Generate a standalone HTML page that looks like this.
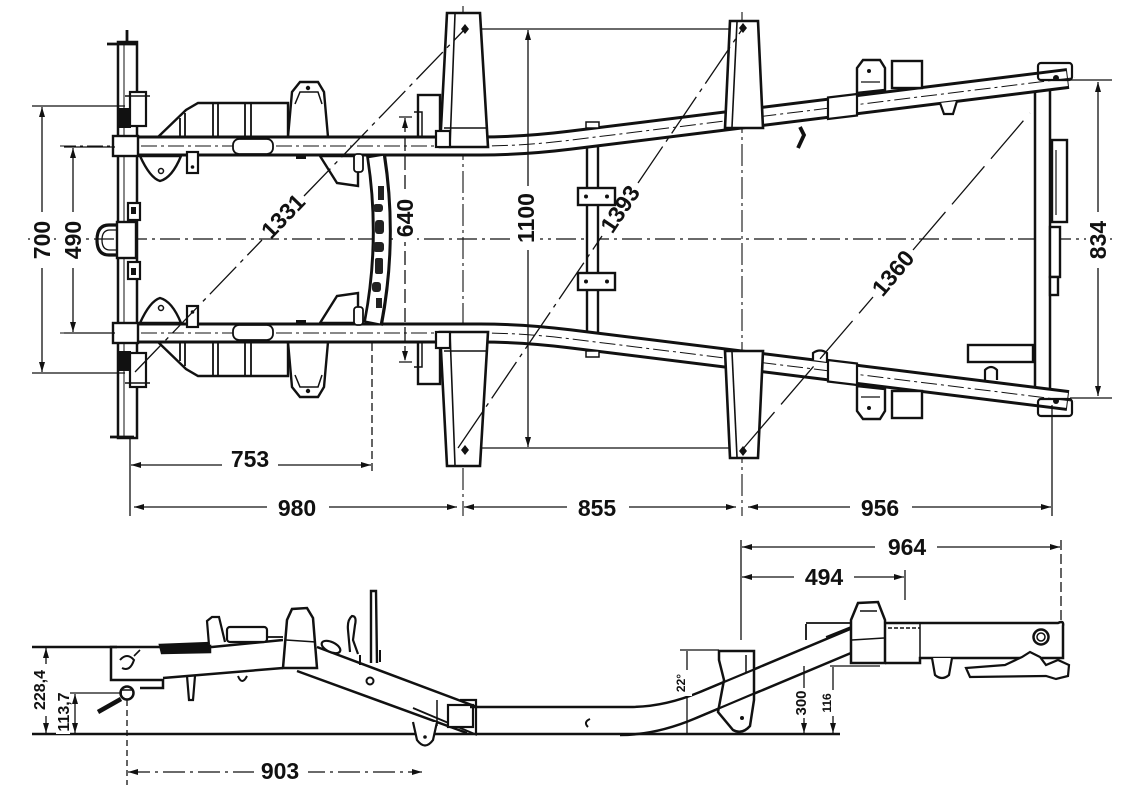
<!DOCTYPE html>
<html><head><meta charset="utf-8">
<style>
html,body{margin:0;padding:0;background:#fff;}
svg{display:block;}
text{font-family:"Liberation Sans",Arial,sans-serif;font-weight:bold;fill:#111;}
</style></head>
<body>
<svg width="1123" height="794" viewBox="0 0 1123 794" xmlns="http://www.w3.org/2000/svg">
<defs>
<marker id="ar" viewBox="0 0 10 6" refX="10" refY="3" markerWidth="10" markerHeight="6" markerUnits="userSpaceOnUse" orient="auto-start-reverse">
<path d="M0,0 L10,3 L0,6 Z" fill="#111"/>
</marker>
<g id="half">
 <!-- fuel tank -->
 <path d="M158,137 L186,110 L198,103 L288,103 L288,137 Z" fill="#fff" stroke="#111" stroke-width="2.4"/>
 <path d="M213,103V137 M218,103V137 M245,103V137 M251,103V137 M180,118V137 M185,113V137" fill="none" stroke="#111" stroke-width="1.8"/>
 <!-- spring bracket front -->
 <path d="M288,137 L292,92 L300,82 L318,82 L324,92 L328,137 Z" fill="#fff" stroke="#111" stroke-width="2.4"/>
 <path d="M295,104 L300,92 L318,92 L322,104" fill="none" stroke="#111" stroke-width="1.5"/>
 <circle cx="308" cy="88" r="2.2" fill="#111"/>
 <!-- box near hanger 1 -->
 <rect x="418" y="95" width="22" height="42" fill="#fff" stroke="#111" stroke-width="2.4"/>
 <path d="M414,112 H422 V137" fill="none" stroke="#111" stroke-width="1.5"/>
 <!-- rail tube -->
 <path d="M113,146 L480,146 Q523,146 570,140.2 L1068,78.5" fill="none" stroke="#111" stroke-width="21"/>
 <path d="M114,146 L480,146 Q523,146 570,140.2 L1067,78.6" fill="none" stroke="#fff" stroke-width="15"/>
 <path d="M60,146 L480,146 Q523,146 570,140.2 L1075,77.6" fill="none" stroke="#111" stroke-width="1" stroke-dasharray="16 4 3 4"/>
 <!-- junction box front -->
 <rect x="113" y="136" width="25" height="20" fill="#fff" stroke="#111" stroke-width="2.4"/>
 <!-- sleeve on rail -->
 <rect x="233" y="139" width="40" height="15" rx="6" fill="#fff" stroke="#111" stroke-width="1.8"/>
 <!-- under-rail items -->
 <path d="M140,156 Q150,178 160,181 Q172,178 181,156 Z" fill="#fff" stroke="#111" stroke-width="2.4"/>
 <circle cx="161" cy="171" r="2.5" fill="none" stroke="#111" stroke-width="1.5"/>
 <rect x="187" y="152" width="11" height="21" fill="#fff" stroke="#111" stroke-width="2.2"/>
 <circle cx="192.5" cy="167" r="1.8" fill="#111"/>
 <path d="M320,156 L337,183 L358,186 L358,156 Z" fill="#fff" stroke="#111" stroke-width="2.4"/>
 <rect x="354" y="154" width="9" height="18" rx="3" fill="#fff" stroke="#111" stroke-width="1.8"/>
 <rect x="296" y="154" width="10" height="5" fill="#111"/>
 <!-- front crossmember block -->
 <rect x="130" y="92" width="16" height="34" fill="#fff" stroke="#111" stroke-width="2.2"/>
 <rect x="118" y="108" width="13" height="20" fill="#111"/>
 <path d="M125,96 H150" stroke="#111" stroke-width="1.5"/>
 <!-- hanger 1 -->
 <path d="M447,13 L480,13 L488,147 L440,147 Z" fill="#fff" stroke="#111" stroke-width="2.6"/>
 <path d="M455,14 L450,146 M444,128 H486" fill="none" stroke="#111" stroke-width="1.6"/>
 <rect x="436" y="131" width="14" height="16" fill="#fff" stroke="#111" stroke-width="2.2"/>
 <path d="M465,24 L469,29 L465,34 L461,29 Z" fill="#111"/>
 <!-- small tab on rail -->
 <rect x="586" y="122" width="13" height="6" fill="#fff" stroke="#111" stroke-width="1.5"/>
 <!-- hanger 2 -->
 <path d="M730,21 L758,21 L763,128 L725,128 Z" fill="#fff" stroke="#111" stroke-width="2.6"/>
 <path d="M737,22 L732,127" fill="none" stroke="#111" stroke-width="1.6"/>
 <path d="M743,23 L747,28 L743,33 L739,28 Z" fill="#111"/>
 <!-- splice sleeve -->
 <path d="M828,97.5 L857,94 L857,115.5 L828,119 Z" fill="#fff" stroke="#111" stroke-width="2.2"/>
 <!-- bracket on rail + box -->
 <path d="M857,93 L857,68 L863,60 L880,60 L885,68 L885,90 Z" fill="#fff" stroke="#111" stroke-width="2.4"/>
 <circle cx="869" cy="71" r="2" fill="#111"/>
 <path d="M861,82 H880" stroke="#111" stroke-width="1.3"/>
 <rect x="892" y="61" width="30" height="27" fill="#fff" stroke="#111" stroke-width="2.4"/>
 <!-- rail end bracket -->
 <rect x="1038" y="63" width="34" height="17" rx="3" fill="none" stroke="#111" stroke-width="2.2"/>
 <circle cx="1056" cy="78" r="3" fill="#111"/>
</g>
</defs>

<!-- ===== TOP VIEW ===== -->
<line x1="28" y1="239" x2="1112" y2="239" stroke="#111" stroke-width="1.2" stroke-dasharray="20 5 3 5"/>
<line x1="463" y1="6" x2="463" y2="516" stroke="#111" stroke-width="1.1" stroke-dasharray="22 4 3 4"/>
<line x1="742" y1="12" x2="742" y2="516" stroke="#111" stroke-width="1.1" stroke-dasharray="22 4 3 4"/>
<line x1="480" y1="29" x2="745" y2="29" stroke="#111" stroke-width="1.3"/>
<line x1="477" y1="448" x2="740" y2="448" stroke="#111" stroke-width="1.3"/>

<!-- front tube -->
<rect x="118" y="42" width="19" height="396" fill="#fff" stroke="#111" stroke-width="2.5"/>
<line x1="124" y1="44" x2="124" y2="436" stroke="#111" stroke-width="1"/>
<path d="M107,44 H137 M110,437 H134 M127,30 V42" stroke="#111" stroke-width="2.8" fill="none"/>
<!-- tow loop -->
<path d="M118,225 L109,225 Q97,225 97,240 Q97,255 109,255 L118,255" fill="none" stroke="#111" stroke-width="3.2"/>
<path d="M118,230 L110,230 Q102,230 102,240 Q102,250 110,250 L118,250" fill="none" stroke="#111" stroke-width="1.3"/>
<rect x="117" y="222" width="19" height="36" fill="#fff" stroke="#111" stroke-width="2.4"/>
<rect x="128" y="203" width="12" height="17" fill="#fff" stroke="#111" stroke-width="2.2"/>
<rect x="131" y="207" width="5" height="7" fill="#111"/>
<rect x="128" y="262" width="12" height="17" fill="#fff" stroke="#111" stroke-width="2.2"/>
<rect x="131" y="268" width="5" height="7" fill="#111"/>

<!-- crossmember 2 -->
<rect x="587" y="132" width="11" height="215" fill="#fff" stroke="#111" stroke-width="2.4"/>
<!-- rear crossmember -->
<rect x="1035" y="80" width="15" height="320" fill="#fff" stroke="#111" stroke-width="2.5"/>

<!-- halves -->
<use href="#half"/>
<g transform="matrix(1 0 0 -1 0 479)"><use href="#half"/></g>

<!-- upper-only details -->
<path d="M800,127 L804,135 L798,148" fill="none" stroke="#111" stroke-width="3.8"/>
<path d="M940,103 L944,114 L953,114 L957,101" fill="#fff" stroke="#111" stroke-width="2.2"/>
<!-- lower-only details -->
<path d="M813,360 V353 Q820,348 827,353 V362" fill="#fff" stroke="#111" stroke-width="2.2"/>

<!-- crossmember 1 -->
<path d="M376,155 Q389,240 373,324" fill="none" stroke="#111" stroke-width="20"/>
<path d="M376,157 Q389,240 373,322" fill="none" stroke="#fff" stroke-width="14"/>
<g fill="#222">
<rect x="378" y="186" width="6" height="14"/>
<rect x="373" y="204" width="10" height="8" rx="3"/>
<rect x="375" y="220" width="9" height="14" rx="3"/>
<rect x="373" y="242" width="11" height="10" rx="3"/>
<rect x="375" y="258" width="8" height="16" rx="2"/>
<rect x="372" y="282" width="9" height="10" rx="3"/>
<rect x="376" y="298" width="6" height="10"/>
</g>
<!-- crossmember 2 clamps -->
<rect x="578" y="188" width="37" height="17" fill="#fff" stroke="#111" stroke-width="2.4"/>
<circle cx="586" cy="196.5" r="2" fill="#111"/><circle cx="607" cy="196.5" r="2" fill="#111"/>
<rect x="578" y="273" width="37" height="17" fill="#fff" stroke="#111" stroke-width="2.4"/>
<circle cx="586" cy="281.5" r="2" fill="#111"/><circle cx="607" cy="281.5" r="2" fill="#111"/>

<!-- rear crossmember plates -->
<rect x="1052" y="140" width="15" height="82" fill="#fff" stroke="#111" stroke-width="2.4"/>
<path d="M1056,150 V215" stroke="#111" stroke-width="1.2"/>
<rect x="1050" y="227" width="10" height="50" fill="#fff" stroke="#111" stroke-width="2.4"/>
<rect x="1050" y="277" width="8" height="18" fill="#fff" stroke="#111" stroke-width="2.4"/>
<rect x="968" y="345" width="65" height="17" fill="#fff" stroke="#111" stroke-width="2.4"/>
<path d="M985,380 V370 Q991,364 997,370 V380" fill="none" stroke="#111" stroke-width="2.2"/>

<!-- diagonals -->
<g stroke="#111" stroke-width="1.3" fill="none">
<path d="M135,372 L262,240 M304,196 L465,29" stroke-dasharray="38 6 4 6"/>
<path d="M458,448 L602,236 M638,183 L743,28" stroke-dasharray="44 6 4 6"/>
<path d="M742,450 L873,297 M913,250 L1030,113" stroke-dasharray="50 10"/>
</g>
<text transform="translate(283,216) rotate(-46)" text-anchor="middle" dy="8" font-size="23">1331</text>
<text transform="translate(620,209) rotate(-56)" text-anchor="middle" dy="8" font-size="23">1393</text>
<text transform="translate(893,273) rotate(-50)" text-anchor="middle" dy="8" font-size="23">1360</text>

<!-- dimension lines top view -->
<g stroke="#111" stroke-width="1.3" fill="none">
<path d="M32,106 H125 M32,373 H125 M64,147 H115 M64,333 H115"/>
<line x1="42" y1="107" x2="42" y2="372" marker-start="url(#ar)" marker-end="url(#ar)"/>
<line x1="73" y1="148" x2="73" y2="332" marker-start="url(#ar)" marker-end="url(#ar)"/>
<line x1="405" y1="118" x2="405" y2="361" stroke-dasharray="14 5" marker-start="url(#ar)" marker-end="url(#ar)"/>
<path d="M399,117 H412 M399,362 H412"/>
<line x1="528" y1="30" x2="528" y2="447" marker-start="url(#ar)" marker-end="url(#ar)"/>
<path d="M1070,80 H1112 M1070,398 H1112"/>
<line x1="1098" y1="82" x2="1098" y2="396" marker-start="url(#ar)" marker-end="url(#ar)"/>
<path d="M130,438 V516 M1052,405 V516"/>
<path d="M372,343 V472" stroke-dasharray="8 4"/>
<line x1="131" y1="465" x2="371" y2="465" marker-start="url(#ar)" marker-end="url(#ar)"/>
<line x1="134" y1="507" x2="457" y2="507" marker-start="url(#ar)" marker-end="url(#ar)"/>
<line x1="464" y1="507" x2="736" y2="507" marker-start="url(#ar)" marker-end="url(#ar)"/>
<line x1="748" y1="507" x2="1051" y2="507" marker-start="url(#ar)" marker-end="url(#ar)"/>
</g>
<g fill="#fff">
<rect x="30" y="212" width="24" height="56"/>
<rect x="61" y="212" width="24" height="56"/>
<rect x="393" y="194" width="24" height="48"/>
<rect x="514" y="186" width="26" height="64"/>
<rect x="1086" y="212" width="24" height="56"/>
<rect x="222" y="452" width="56" height="24"/>
<rect x="267" y="496" width="62" height="24"/>
<rect x="567" y="496" width="62" height="24"/>
<rect x="850" y="496" width="62" height="24"/>
</g>
<text transform="translate(42,240) rotate(-90)" text-anchor="middle" dy="8" font-size="23">700</text>
<text transform="translate(73,240) rotate(-90)" text-anchor="middle" dy="8" font-size="23">490</text>
<text transform="translate(405,218) rotate(-90)" text-anchor="middle" dy="8" font-size="23">640</text>
<text transform="translate(526,218) rotate(-90)" text-anchor="middle" dy="8" font-size="23">1100</text>
<text transform="translate(1098,240) rotate(-90)" text-anchor="middle" dy="8" font-size="23">834</text>
<text x="250" y="467" text-anchor="middle" font-size="23">753</text>
<text x="297" y="516" text-anchor="middle" font-size="23">980</text>
<text x="597" y="516" text-anchor="middle" font-size="23">855</text>
<text x="880" y="516" text-anchor="middle" font-size="23">956</text>

<!-- ===== SIDE VIEW ===== -->
<g stroke="#111" fill="none" stroke-width="2.5">
<path d="M32,647 H117"/>
<path d="M32,734 H840" stroke-width="2.6"/>
<path d="M117,647 L212,647 L283,640"/>
<path d="M160,645 L210,643 L210,652 L162,653 Z" fill="#111"/>
<path d="M163,678 L283,668"/>
<path d="M117,647 L111,647 L111,680 L163,680 L163,688 L140,688"/>
<path d="M120,660 Q127,652 134,660 Q130,672 122,668" stroke-width="2"/>
<path d="M134,656 L140,650" stroke-width="1.6"/>
<circle cx="127" cy="693" r="6.5" fill="#fff"/>
<path d="M98,712 L121,699" stroke-width="4.5"/>
<path d="M120,690 L133,690" stroke-width="1.5"/>
<path d="M209,645 L207,621 L212,617 L219,617 L225,642" fill="#fff" stroke-width="2.2"/>
<rect x="227" y="627" width="40" height="15" rx="3" fill="#fff" stroke-width="2.2"/>
<path d="M267,637 H283" stroke-width="1.8"/>
<path d="M187,676 L189,700 L193,700 L195,676" stroke-width="2.2"/>
<path d="M238,676 Q242,686 247,676" stroke-width="2"/>
<path d="M283,668 L287,620 L292,609 L307,608 L313,618 L317,668 Z" fill="#fff"/>
<path d="M286,640 L316,642" stroke-width="1.5"/>
<path d="M317,647 L477,707"/>
<path d="M297,671 L467,733"/>
<path d="M413,708 L477,735" stroke-width="1.8"/>
<ellipse cx="331" cy="647" rx="10" ry="5" transform="rotate(25 331 647)" fill="#fff" stroke-width="2.2"/>
<path d="M350,652 L348,630 Q347,620 352,616 Q357,616 355,625 L353,640 L358,654" stroke-width="2.2"/>
<path d="M371,663 L371,591 L376,591 L377,663" stroke-width="2.4" fill="#fff"/>
<path d="M380,650 V662 M360,655 V665" stroke-width="2"/>
<circle cx="370" cy="681" r="3.5" stroke-width="2"/>
<rect x="448" y="705" width="25" height="22" fill="#fff" stroke-width="2.2"/>
<path d="M437,700 V726" stroke-width="1.5"/>
<path d="M413,722 L417,740 Q425,751 433,740 L437,722" fill="#fff" stroke-width="2.2"/>
<circle cx="425" cy="737" r="1.8" fill="#111" stroke="none"/>
<path d="M470,707 L630,707 Q664,707 700,692 L855,627"/>
<path d="M620,735 Q656,735 695,718.5 L851,653"/>
<path d="M460,700 H476 V734" stroke-width="2.2"/>
<path d="M590,719 Q583,722 588,727" stroke-width="2"/>
<path d="M806,624 V640 M806,623 H851 M826,637 L851,627" stroke-width="1.8"/>
<path d="M851,623 L1058,623 Q1064,620 1063,626 L1063,658 L920,658 L920,663 L885,663"/>
<path d="M920,623 V658" stroke-width="1.5"/>
<path d="M888,628 H920" stroke-width="1.5" stroke-dasharray="4 2"/>
<circle cx="1041" cy="637" r="7.5" fill="#fff"/>
<circle cx="1041" cy="637" r="4" stroke-width="1.5"/>
<path d="M966,668 L1005,665 L1022,657 L1030,652 L1040,657 L1046,665 L1058,660 L1069,665 L1068,676 L1056,679 L1046,676 L970,677 Z" fill="#fff" stroke-width="2.2"/>
<path d="M932,658 L935,675 Q942,681 949,675 L952,658" fill="#fff" stroke-width="2.2"/>
<path d="M851,663 L851,620 L858,603 L878,602 L885,620 L885,663 Z" fill="#fff"/>
<path d="M852,640 L884,638 M860,611 H877" stroke-width="1.5"/>
<path d="M719,651 L754,651 L754,700 L750,726 Q742,735 733,730 L718,712 L724,680 L719,660 Z" fill="#fff"/>
<path d="M746,655 V672" stroke-width="1.5"/>
<circle cx="742" cy="718" r="2" fill="#111" stroke="none"/>
</g>
<g stroke="#111" stroke-width="2.3" fill="none">
<path d="M700,692 L760,667"/>
<path d="M695,718.5 L760,691"/>
</g>

<!-- side dims -->
<g stroke="#111" stroke-width="1.3" fill="none">
<line x1="46" y1="648" x2="46" y2="733" marker-start="url(#ar)" marker-end="url(#ar)"/>
<path d="M70,693 H122"/>
<line x1="75" y1="694" x2="75" y2="733" marker-start="url(#ar)" marker-end="url(#ar)"/>
<path d="M127,700 V785" stroke-dasharray="6 4"/>
<line x1="128" y1="772" x2="422" y2="772" stroke-dasharray="22 5 3 5" marker-start="url(#ar)" marker-end="url(#ar)"/>
<path d="M741,540 V640 M905,570 V600"/>
<path d="M1061,540 V620" stroke-dasharray="10 4"/>
<line x1="742" y1="547" x2="1060" y2="547" marker-start="url(#ar)" marker-end="url(#ar)"/>
<line x1="742" y1="577" x2="904" y2="577" marker-start="url(#ar)" marker-end="url(#ar)"/>
<path d="M680,650 H719"/>
<line x1="687" y1="651" x2="687" y2="733"/>
<line x1="804" y1="666" x2="804" y2="733" marker-end="url(#ar)"/>
<path d="M830,666 H880"/>
<line x1="833" y1="667" x2="833" y2="733" marker-end="url(#ar)"/>
</g>
<g fill="#fff">
<rect x="30" y="664" width="20" height="52"/>
<rect x="56" y="690" width="14" height="44"/>
<rect x="254" y="760" width="54" height="22"/>
<rect x="875" y="536" width="62" height="22"/>
<rect x="794" y="566" width="60" height="22"/>
<rect x="672" y="670" width="20" height="26"/>
<rect x="794" y="688" width="14" height="30"/>
<rect x="820" y="690" width="14" height="26"/>
</g>
<text transform="translate(39,690) rotate(-90)" text-anchor="middle" dy="6" font-size="16" font-weight="normal">228,4</text>
<text transform="translate(63,712) rotate(-90)" text-anchor="middle" dy="6" font-size="16" font-weight="normal">113,7</text>
<text x="280" y="779" text-anchor="middle" font-size="23">903</text>
<text x="907" y="555" text-anchor="middle" font-size="23">964</text>
<text x="824" y="585" text-anchor="middle" font-size="23">494</text>
<text transform="translate(681,683) rotate(-90)" text-anchor="middle" dy="4" font-size="12">22°</text>
<text transform="translate(801,703) rotate(-90)" text-anchor="middle" dy="5" font-size="15">300</text>
<text transform="translate(827,703) rotate(-90)" text-anchor="middle" dy="4" font-size="12" font-weight="normal">116</text>
</svg>
</body></html>
